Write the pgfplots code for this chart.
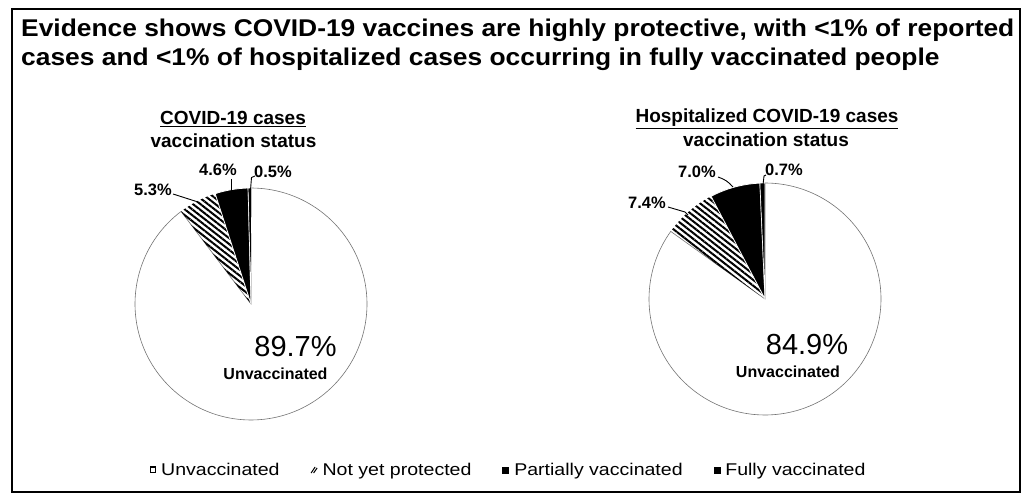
\documentclass[border=0pt]{standalone}
\usepackage{pgfplots}
\pgfplotsset{compat=1.18}
\usepackage{pgfplotstable}
\usepackage{fontspec}
\setmainfont{Liberation Sans}
\newfontfamily\widefont[FakeStretch=1.09]{Liberation Sans}
\newfontfamily\legfont[FakeStretch=1.15]{Liberation Sans}
\usetikzlibrary{patterns.meta}

\pgfplotstableread{
status value
Unvaccinated 89.7
NotYetProtected 5.3
Partially 4.6
Fully 0.5
}\casestable

\pgfplotstableread{
status value
Unvaccinated 84.9
NotYetProtected 7.4
Partially 7.0
Fully 0.7
}\hosptable

\tikzset{
  stripes/.style={pattern={Lines[angle=-38,distance=4.6pt,line width=2pt]}, pattern color=black},
}
\pgfplotsset{
  pie/.style={
    hide axis, scale only axis, clip=false,
    width=232pt, height=232pt,
    xmin=-1, xmax=1, ymin=-1, ymax=1,
    anchor=center,
  },
}

\begin{document}
\begin{tikzpicture}[x=1pt,y=1pt]
\path[use as bounding box] (0,0) rectangle (1032,497);
\draw[line width=1.4pt] (12,488) rectangle (1020,5);

% angles from the tables (clockwise from 12 o'clock)
\pgfplotstablegetelem{0}{value}\of\casestable \pgfmathsetmacro\cA{90-3.6*\pgfplotsretval}
\pgfplotstablegetelem{1}{value}\of\casestable \pgfmathsetmacro\cB{\cA-3.6*\pgfplotsretval}
\pgfplotstablegetelem{2}{value}\of\casestable \pgfmathsetmacro\cC{\cB-3.6*\pgfplotsretval}
\pgfplotstablegetelem{3}{value}\of\casestable \pgfmathsetmacro\cD{\cC-3.6*\pgfplotsretval}
\pgfplotstablegetelem{0}{value}\of\hosptable \pgfmathsetmacro\hA{90-3.6*\pgfplotsretval}
\pgfplotstablegetelem{1}{value}\of\hosptable \pgfmathsetmacro\hB{\hA-3.6*\pgfplotsretval}
\pgfplotstablegetelem{2}{value}\of\hosptable \pgfmathsetmacro\hC{\hB-3.6*\pgfplotsretval}
\pgfplotstablegetelem{3}{value}\of\hosptable \pgfmathsetmacro\hD{\hC-3.6*\pgfplotsretval}

% Title
\node[anchor=base west, inner sep=0pt, font=\widefont\fontsize{24.2}{28}\selectfont\bfseries] at (21,460)
  {Evidence shows COVID-19 vaccines are highly protective, with <1\% of reported};
\node[anchor=base west, inner sep=0pt, font=\widefont\fontsize{24.2}{28}\selectfont\bfseries] at (21,431.5)
  {cases and <1\% of hospitalized cases occurring in fully vaccinated people};

% Left pie
\begin{axis}[pie, at={(251pt,193pt)},
  legend columns=4,
  legend style={draw=none, fill=none, at={(axis description cs:1.61,-0.2155)}, anchor=center,
    font=\legfont\fontsize{17}{20}\selectfont,
    /tikz/every odd column/.append style={column sep=3pt},
    /tikz/every even column/.append style={column sep=29pt},
    legend cell align=left},
]
\addplot[draw=black!55, line width=0.6pt, fill=white, domain=\cA:90, samples=150, variable=\t,
  area legend, legend image code/.code={\draw[black, line width=1.1pt, fill=white] (0.5pt,-2.5pt) rectangle (6pt,3pt);}]
  ({cos(\t)},{sin(\t)}) -- (axis cs:0,0) -- cycle;
\addlegendentry{Unvaccinated}
\addplot[draw=none, stripes, domain=\cB:\cA, samples=30, variable=\t,
  area legend, legend image code/.code={\draw[black, line width=1pt] (0pt,-3pt) -- (4pt,3pt) (2.5pt,-3pt) -- (6pt,2pt);}]
  ({cos(\t)},{sin(\t)}) -- (axis cs:0,0) -- cycle;
\addlegendentry{Not yet protected}
\addplot[draw=white, line width=0.8pt, fill=black, domain=\cC:\cB, samples=30, variable=\t,
  area legend, legend image code/.code={\fill[black] (0pt,-3pt) rectangle (6pt,3pt);}]
  ({cos(\t)},{sin(\t)}) -- (axis cs:0,0) -- cycle;
\addlegendentry{Partially vaccinated}
\addplot[draw=white, line width=0.6pt, fill=black, domain=\cD:\cC, samples=10, variable=\t,
  area legend, legend image code/.code={\fill[black] (0pt,-3pt) rectangle (6pt,3pt);}]
  ({cos(\t)},{sin(\t)}) -- (axis cs:0,0) -- cycle;
\addlegendentry{Fully vaccinated}
\end{axis}

% Right pie
\begin{axis}[pie, at={(765pt,198pt)}]
\addplot[draw=black!55, line width=0.6pt, fill=white, domain=\hA:90, samples=150, variable=\t]
  ({cos(\t)},{sin(\t)}) -- (axis cs:0,0) -- cycle;
\addplot[draw=none, stripes, domain=\hB:\hA, samples=30, variable=\t]
  ({cos(\t)},{sin(\t)}) -- (axis cs:0,0) -- cycle;
\addplot[draw=white, line width=0.8pt, fill=black, domain=\hC:\hB, samples=30, variable=\t]
  ({cos(\t)},{sin(\t)}) -- (axis cs:0,0) -- cycle;
\addplot[draw=white, line width=0.6pt, fill=black, domain=\hD:\hC, samples=10, variable=\t]
  ({cos(\t)},{sin(\t)}) -- (axis cs:0,0) -- cycle;
\end{axis}

% Subtitles
\node[anchor=base, inner sep=0pt, font=\fontsize{19}{22}\selectfont\bfseries] at (233,372) {\underline{COVID-19 cases}};
\node[anchor=base, inner sep=0pt, font=\fontsize{19}{22}\selectfont\bfseries] at (233.5,349) {vaccination status};
\node[anchor=base, inner sep=0pt, font=\fontsize{19}{22}\selectfont\bfseries] at (767,374) {\underline{Hospitalized COVID-19 cases}};
\node[anchor=base, inner sep=0pt, font=\fontsize{19}{22}\selectfont\bfseries] at (766,350) {vaccination status};

% Slice labels
\begin{scope}[every node/.style={inner sep=0pt, font=\fontsize{16.5}{18}\selectfont\bfseries}]
\node at (153,307) {5.3\%};
\node at (218,327) {4.6\%};
\node at (273,325) {0.5\%};
\node at (647,294) {7.4\%};
\node at (697,325) {7.0\%};
\node at (784,327) {0.7\%};
\end{scope}
\draw[line width=0.9pt] (173,303) -- (198,295);
\draw[line width=0.9pt] (231,318) -- (231,306);
\draw[line width=0.9pt] (255,321) -- (251.5,319.5) -- (250.5,307);
\draw[line width=0.9pt] (668,290) -- (685,285) -- (688,282);
\draw[line width=0.9pt] (718,320) to[bend left=15] (733,310);
\draw[line width=0.9pt] (766,322) -- (764,321) -- (763,312);

% Big labels
\node[inner sep=0pt, font=\fontsize{29}{32}\selectfont] at (295.5,150) {89.7\%};
\node[inner sep=0pt, font=\fontsize{16}{18}\selectfont\bfseries] at (275.5,123) {Unvaccinated};
\node[inner sep=0pt, font=\fontsize{29}{32}\selectfont] at (807,152) {84.9\%};
\node[inner sep=0pt, font=\fontsize{16}{18}\selectfont\bfseries] at (788,125) {Unvaccinated};
\end{tikzpicture}
\end{document}
